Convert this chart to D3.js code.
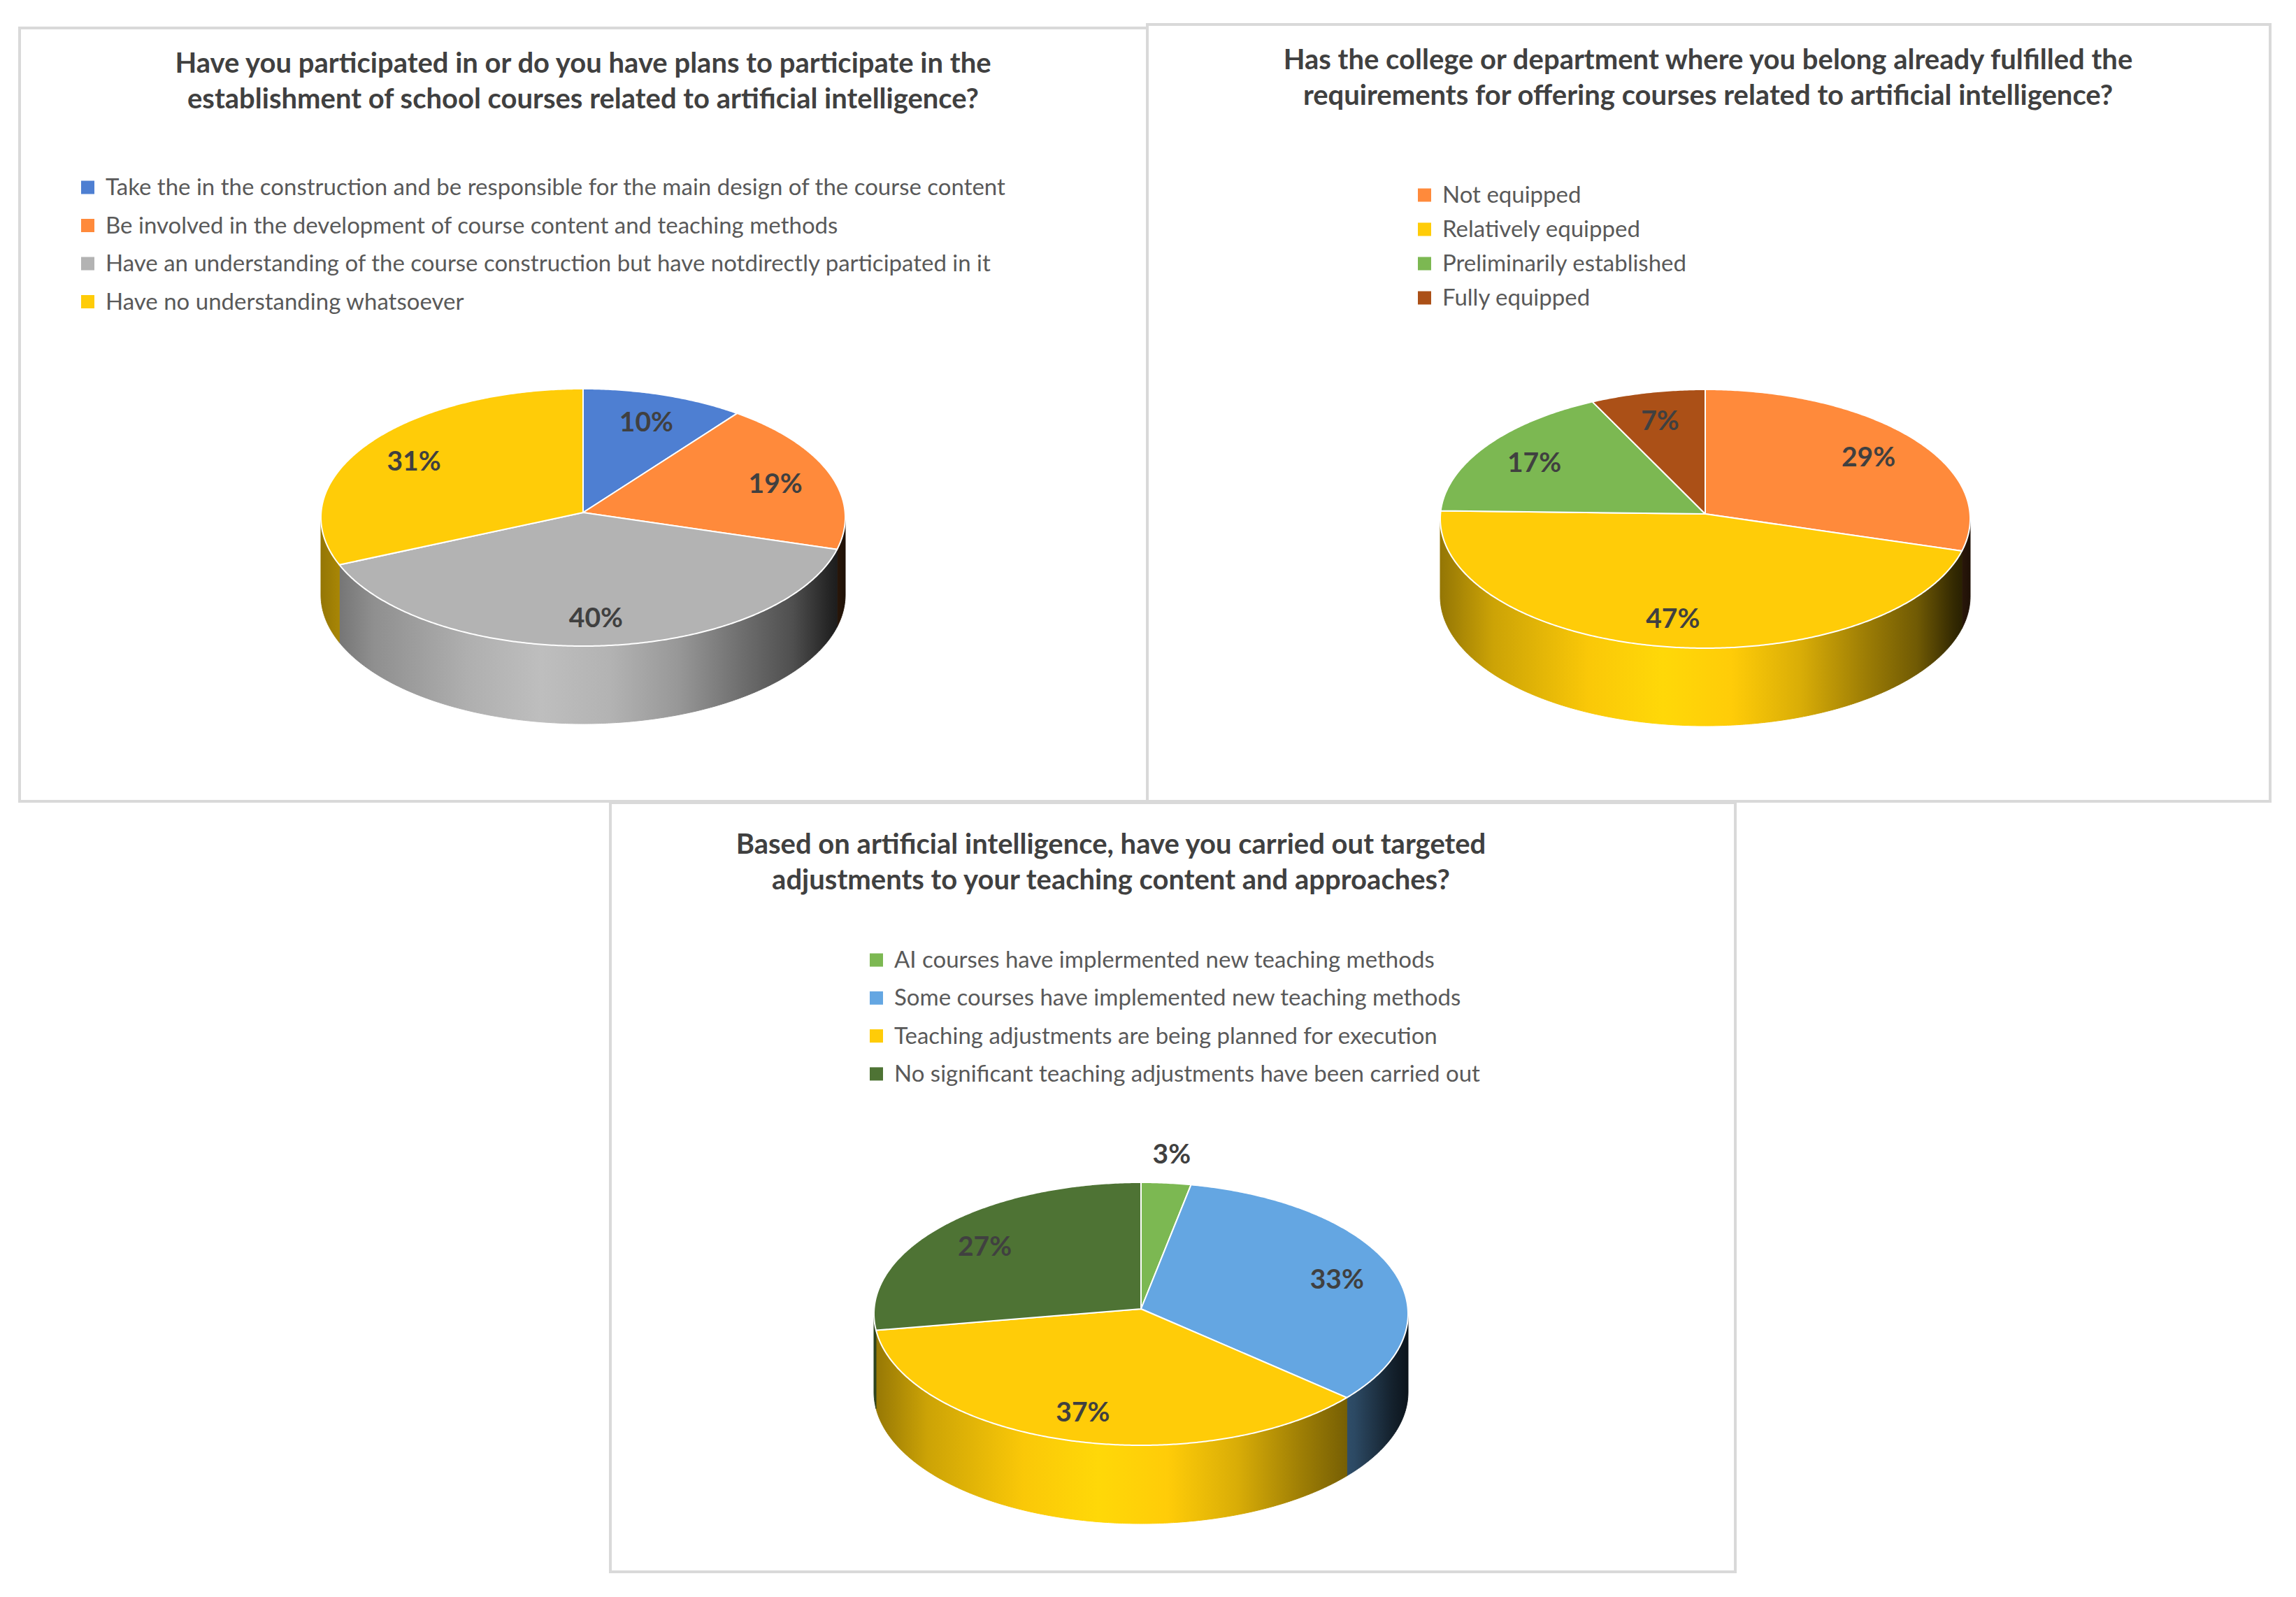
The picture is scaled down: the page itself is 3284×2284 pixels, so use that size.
<!DOCTYPE html>
<html>
<head>
<meta charset="utf-8">
<script src="https://cdn.jsdelivr.net/npm/d3@7"></script>
<style>
  body { margin: 0; background: #fff; }
  svg { display: block; }
  text { font-family: Lato, "Open Sans", sans-serif; }
</style>
</head>
<body>
<svg id="chart" width="3284" height="2284"></svg>
<script>
// chart 1 - participation in course construction
const title1 = ["Have you participated in or do you have plans to participate in the",
                "establishment of school courses related to artificial intelligence?"];
const labels1 = ["Take the in the construction and be responsible for the main design of the course content",
                 "Be involved in the development of course content and teaching methods",
                 "Have an understanding of the course construction but have notdirectly participated in it",
                 "Have no understanding whatsoever"];
const values1 = [10, 19, 40, 31];
const colors1 = ["#4e7fd2", "#ff8a3b", "#b3b3b3", "#ffcc08"];

// chart 2 - college requirements
const title2 = ["Has the college or department where you belong already fulfilled the",
                "requirements for offering courses related to artificial intelligence?"];
const labels2 = ["Not equipped", "Relatively equipped", "Preliminarily established", "Fully equipped"];
const values2 = [29, 47, 17, 7];
const colors2 = ["#ff8a3b", "#ffcc08", "#7cb852", "#ab5017"];

// chart 3 - teaching adjustments
const title3 = ["Based on artificial intelligence, have you carried out targeted",
                "adjustments to your teaching content and approaches?"];
const labels3 = ["AI courses have implermented new teaching methods",
                 "Some courses have implemented new teaching methods",
                 "Teaching adjustments are being planned for execution",
                 "No significant teaching adjustments have been carried out"];
const values3 = [3, 33, 37, 27];
const colors3 = ["#7cb852", "#64a6e2", "#ffcc08", "#4e7334"];

// layout of the three panels
const panels = [
  { id: "p1", box: [28, 40, 1641, 1146], titleX: 834, titleY: 104,
    legendX: 116, legendY: 268, legendStep: 54.5,
    pie: { cx: 834, cy: 740, rx: 375, ry: 184, depth: 111 } },
  { id: "p2", box: [1641, 35, 3247, 1146], titleX: 2443, titleY: 99,
    legendX: 2028, legendY: 279, legendStep: 49,
    pie: { cx: 2439, cy: 742, rx: 379, ry: 185, depth: 111 } },
  { id: "p3", box: [873, 1148, 2482, 2248], titleX: 1589, titleY: 1221,
    legendX: 1244, legendY: 1373, legendStep: 54.3,
    pie: { cx: 1632, cy: 1879, rx: 382, ry: 188, depth: 112 } }
];

// side wall shading, brightness multiplier across the pie width
const shade = [[0, 0.58], [0.1, 0.8], [0.28, 0.98], [0.42, 1.06], [0.55, 1.0],
               [0.68, 0.85], [0.8, 0.62], [0.9, 0.44], [0.97, 0.2], [1, 0.12]];

const svg = d3.select("#chart");
const defs = svg.append("defs");

function mult(c, k) {
  const col = d3.rgb(c);
  return d3.rgb(Math.min(255, col.r * k), Math.min(255, col.g * k), Math.min(255, col.b * k)).formatHex();
}

function drawPanel(cfg, title, labels, values, colors) {
  const [x0, y0, x1, y1] = cfg.box;
  const g = svg.append("g");

  g.append("rect")
    .attr("x", x0).attr("y", y0)
    .attr("width", x1 - x0).attr("height", y1 - y0)
    .attr("fill", "#fff")
    .attr("stroke", "#d9d9d9")
    .attr("stroke-width", 4);

  // title
  g.selectAll(".title")
    .data(title)
    .join("text")
    .attr("x", cfg.titleX)
    .attr("y", (d, i) => cfg.titleY + i * 51)
    .attr("text-anchor", "middle")
    .attr("font-size", 40)
    .attr("font-weight", "bold")
    .attr("fill", "#404040")
    .text(d => d);

  // legend
  const leg = g.selectAll(".leg")
    .data(labels)
    .join("g")
    .attr("transform", (d, i) => `translate(${cfg.legendX},${cfg.legendY + i * cfg.legendStep})`);
  leg.append("rect")
    .attr("x", 0).attr("y", -9.5)
    .attr("width", 19).attr("height", 19)
    .attr("fill", (d, i) => colors[i]);
  leg.append("text")
    .attr("x", 35).attr("y", 11)
    .attr("font-size", 33)
    .attr("fill", "#595959")
    .text(d => d);

  // 3d pie
  const p = cfg.pie;
  const arcs = d3.pie().sort(null).value(d => d)(values);
  const pt = (a, k = 1, dy = 0) => [p.cx + p.rx * k * Math.sin(a), p.cy - p.ry * k * Math.cos(a) + dy];
  const line = d3.line();
  const step = Math.PI / 360;
  const sweep = (a, b, dy) => {
    const pts = [];
    const n = Math.max(2, Math.ceil((b - a) / step));
    for (let i = 0; i <= n; i++) pts.push(pt(a + (b - a) * i / n, 1, dy));
    return pts;
  };

  arcs.forEach((a, i) => {
    const gr = defs.append("linearGradient")
      .attr("id", `${cfg.id}-side${i}`)
      .attr("gradientUnits", "userSpaceOnUse")
      .attr("x1", p.cx - p.rx).attr("x2", p.cx + p.rx)
      .attr("y1", 0).attr("y2", 0);
    shade.forEach(s => gr.append("stop")
      .attr("offset", s[0])
      .attr("stop-color", mult(colors[i], s[1])));
  });

  // side walls: only the front half of the rim shows
  const side = g.append("g");
  arcs.forEach((a, i) => {
    const s = Math.max(a.startAngle, Math.PI / 2);
    const e = Math.min(a.endAngle, 3 * Math.PI / 2);
    if (e <= s) return;
    const pts = sweep(s, e, 0).concat(sweep(s, e, p.depth).reverse());
    side.append("path")
      .attr("d", line(pts) + "Z")
      .attr("fill", `url(#${cfg.id}-side${i})`)
      .attr("stroke", `url(#${cfg.id}-side${i})`)
      .attr("stroke-width", 1);
  });

  // top face
  const apex = [p.cx, p.cy - 7];
  g.append("g").selectAll("path")
    .data(arcs)
    .join("path")
    .attr("d", a => line([apex].concat(sweep(a.startAngle, a.endAngle, 0))) + "Z")
    .attr("fill", (a, i) => colors[i])
    .attr("stroke", "#fff")
    .attr("stroke-width", 2)
    .attr("stroke-linejoin", "round");

  // data labels; tiny slices get theirs outside the rim
  g.append("g").selectAll("text")
    .data(arcs)
    .join("text")
    .attr("transform", a => {
      const mid = (a.startAngle + a.endAngle) / 2;
      const k = a.data < 5 ? 1.22 : 0.78;
      return `translate(${pt(mid, k)})`;
    })
    .attr("dy", "0.35em")
    .attr("text-anchor", "middle")
    .attr("font-size", 39)
    .attr("font-weight", "bold")
    .attr("fill", "#404040")
    .text(a => a.data + "%");
}

drawPanel(panels[0], title1, labels1, values1, colors1);
drawPanel(panels[1], title2, labels2, values2, colors2);
drawPanel(panels[2], title3, labels3, values3, colors3);
</script>
</body>
</html>
